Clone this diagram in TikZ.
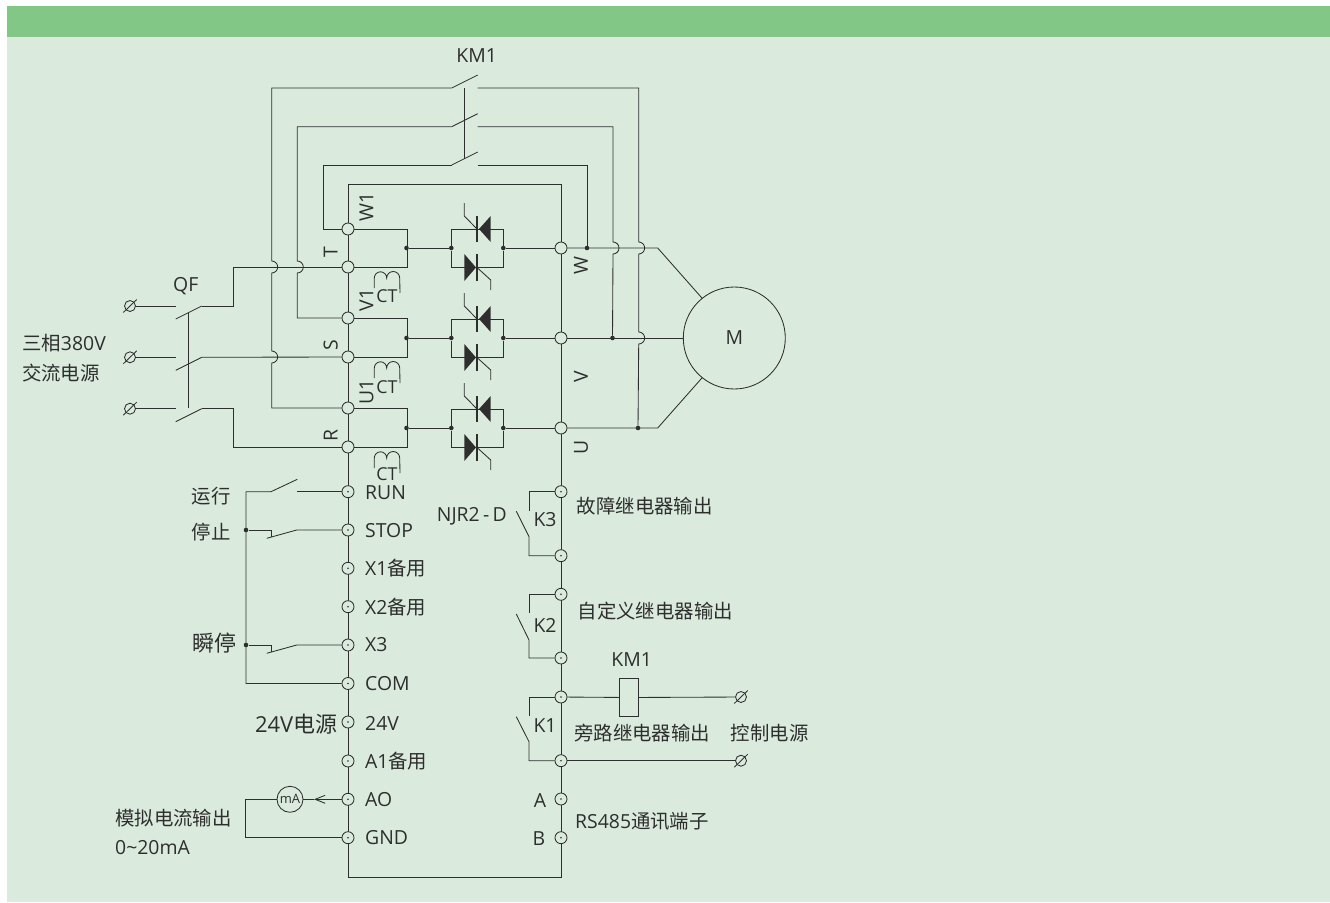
\documentclass[tikz,border=0pt]{standalone}
\usepackage{fontspec}
\setmainfont{Open Sans}
\newfontfamily\cjk{Noto Sans CJK SC}
\usetikzlibrary{arrows.meta}
\definecolor{panelgreen}{HTML}{DAEBDD}
\definecolor{bandgreen}{HTML}{82C785}
\definecolor{wirecolor}{HTML}{2E2E2E}
\tikzset{
	wire/.style={draw=wirecolor, line width=0.85pt},
	lbl/.style={inner sep=0pt, text=wirecolor, font=\fontsize{19.4}{22}\selectfont},
	biglbl/.style={inner sep=0pt, text=wirecolor, font=\fontsize{22}{24}\selectfont},
	bigterm/.style={circle, wire, fill=panelgreen, minimum size=12pt, inner sep=0pt},
	smallterm/.style={circle, wire, fill=panelgreen, minimum size=12pt, inner sep=0pt,
		path picture={\fill[wirecolor] (path picture bounding box.center) circle (0.9pt);}},
	supply/.style={circle, wire, minimum size=11pt, inner sep=0pt},
	junction/.style={circle, fill=wirecolor, minimum size=4.6pt, inner sep=0pt},
	coil/.style={wire, fill=panelgreen, minimum width=19pt, minimum height=38pt, inner sep=0pt}
}
% one anti-parallel thyristor pair, #1 is the centre line of the pair
\newcommand{\thyristors}[1]{
	\fill[wirecolor] (490.7, #1+32) -- (479, #1+19) -- (490.7, #1+6) -- cycle;
	\draw[wire, line width=1.9pt] (477, #1+32) -- (477, #1+6);
	\draw[wire] (477, #1+19) -- (464.3, #1+32) -- (464.3, #1+45);
	\fill[wirecolor] (464.3, #1-6) -- (476, #1-19.5) -- (464.3, #1-33) -- cycle;
	\draw[wire, line width=1.9pt] (477, #1-6) -- (477, #1-33);
	\draw[wire] (477, #1-19.5) -- (490.7, #1-32) -- (490.7, #1-42);
}
% current transformer, #1 is the height of the bumps, #2 the height of its text
\newcommand{\ctcoil}[2]{
	\draw[wire] (374.3, #1-10) -- (374.3, #1) arc[start angle=180, end angle=0, radius=6.2pt]
		arc[start angle=180, end angle=0, radius=6.5pt] -- (400, #1-15);
	\node[lbl, font=\fontsize{17.8}{20}\selectfont] at (387, #2) {CT};
}
\begin{document}
\begin{tikzpicture}[x=1pt, y=1pt]
	\useasboundingbox (0, 0) rectangle (1330, -902);
	\fill[panelgreen] (7, -6) rectangle (1330, -902);
	\fill[bandgreen] (7, -6) rectangle (1330, -37);

	% frame of the starter
	\draw[wire] (348, -184) -- (561, -184) -- (561, -877) -- (348, -877) -- cycle;

	% left power terminals
	\node[bigterm] (W1) at (348, -229) {};
	\node[bigterm] (T) at (348, -267) {};
	\node[bigterm] (V1) at (348, -318) {};
	\node[bigterm] (S) at (348, -357) {};
	\node[bigterm] (U1) at (348, -408) {};
	\node[bigterm] (R) at (348, -447) {};
	\node[lbl, rotate=90] at (366.5, -207) {W1};
	\node[lbl, rotate=90] at (330.7, -252) {T};
	\node[lbl, rotate=90] at (366.5, -300) {V1};
	\node[lbl, rotate=90] at (330.7, -345) {S};
	\node[lbl, rotate=90] at (366.5, -392) {U1};
	\node[lbl, rotate=90] at (330.7, -435) {R};
	\ctcoil{-278}{-296.5}
	\ctcoil{-368}{-387}
	\ctcoil{-458}{-474.5}

	% right power terminals
	\node[bigterm] (W) at (561, -248) {};
	\node[bigterm] (V) at (561, -338) {};
	\node[bigterm] (U) at (561, -428) {};
	\node[lbl, rotate=90] at (581, -265.5) {W};
	\node[lbl, rotate=90] at (581, -376.5) {V};
	\node[lbl, rotate=90] at (581, -447.5) {U};

	% thyristor modules
	\thyristors{-248}
	\thyristors{-338}
	\thyristors{-428}
	\node[junction] (dW1) at (406.5, -248) {};
	\node[junction] (dV1) at (406.5, -338) {};
	\node[junction] (dU1) at (406.5, -428) {};
	\node[junction] (aW) at (451.3, -248) {};
	\node[junction] (aV) at (451.3, -338) {};
	\node[junction] (aU) at (451.3, -428) {};
	\node[junction] (bW) at (503.3, -248) {};
	\node[junction] (bV) at (503.3, -338) {};
	\node[junction] (bU) at (503.3, -428) {};
	\draw[wire] (W1) -- (407, -229) -- (407, -267) -- (T);
	\draw[wire] (V1) -- (407, -318) -- (407, -357) -- (S);
	\draw[wire] (U1) -- (407, -408) -- (407, -447) -- (R);
	\draw[wire] (dW1) -- (aW);
	\draw[wire] (dV1) -- (aV);
	\draw[wire] (dU1) -- (aU);
	\draw[wire] (aW) -- (451.3, -229) -- (503.3, -229) -- (bW) -- (503.3, -267) -- (451.3, -267) -- (aW);
	\draw[wire] (aV) -- (451.3, -319) -- (503.3, -319) -- (bV) -- (503.3, -357) -- (451.3, -357) -- (aV);
	\draw[wire] (aU) -- (451.3, -409) -- (503.3, -409) -- (bU) -- (503.3, -447) -- (451.3, -447) -- (aU);
	\draw[wire] (bW) -- (W);
	\draw[wire] (bV) -- (V);
	\draw[wire] (bU) -- (U);

	% KM1 bypass contacts
	\node[lbl] (km1top) at (476.7, -56) {KM1};
	\coordinate (kmA) at (451.7, -88);
	\coordinate (kmB) at (451.7, -126.7);
	\coordinate (kmC) at (451.7, -165);
	\coordinate (kmAr) at (477.7, -88);
	\coordinate (kmBr) at (477.7, -126.7);
	\coordinate (kmCr) at (477.7, -165);
	\draw[wire] (kmA) -- ++(26, 13);
	\draw[wire] (kmB) -- ++(26, 13);
	\draw[wire] (kmC) -- ++(26, 13);
	\draw[wire] (464.7, -88) -- (464.7, -158.5);
	\node[junction] (jW) at (587, -248) {};
	\node[junction] (jV) at (612.5, -338) {};
	\node[junction] (jU) at (638, -428) {};
	\draw[wire] (kmCr) -- (587, -165) -- (jW);
	\draw[wire] (kmBr) -- (613, -126.7) -- (613, -242) arc[start angle=90, end angle=-90, radius=6pt] -- (jV);
	\draw[wire] (kmAr) -- (638.7, -88) -- (638.7, -242) arc[start angle=90, end angle=-90, radius=6pt]
		-- (638.7, -332) arc[start angle=90, end angle=-90, radius=6pt] -- (jU);
	\draw[wire] (S.west) -- (201.7, -357.3);
	\draw[wire] (T.west) -- (233, -267) -- (233, -306) -- (201.7, -306);
	\draw[wire] (R.west) -- (233, -447) -- (233, -408.7) -- (201.7, -408.7);
	\draw[wire] (kmA) -- (271.7, -88) -- (271.7, -261) arc[start angle=90, end angle=-90, radius=6pt]
		-- (271.7, -351) arc[start angle=90, end angle=-90, radius=6pt] -- (271.7, -408) -- (U1.west);
	\draw[wire] (kmB) -- (297.3, -126.7) -- (297.3, -261) arc[start angle=90, end angle=-90, radius=6pt]
		-- (297.3, -318) -- (V1.west);
	\draw[wire] (kmC) -- (323.3, -165) -- (323.3, -229) -- (W1.west);

	% motor
	\node[circle, wire, minimum size=102pt, inner sep=0pt] (M) at (734.3, -338) {};
	\node[lbl] at (M.center) {M};
	\draw[wire] (W.east) -- (657.7, -248) -- (M.129);
	\draw[wire] (V.east) -- (M.west);
	\draw[wire] (U.east) -- (657.7, -428) -- (M.231);

	% QF and mains supply
	\node[lbl] at (185.7, -285.7) {QF};
	\node[lbl, anchor=west] at (22, -343) {{\cjk 三相}380V};
	\node[lbl, anchor=west] at (22, -373) {\cjk 交流电源};
	\node[supply] (L1) at (130, -306) {};
	\node[supply] (L2) at (130, -357.3) {};
	\node[supply] (L3) at (130, -408.7) {};
	\foreach \n/\yy in {L1/-306, L2/-357.3, L3/-408.7}{
		\draw[wire] (123.3, \yy-6.5) -- (136.7, \yy+6.5);
		\draw[wire] (\n) -- (175.7, \yy);
		\draw[wire] (201.7, \yy) -- (175.7, \yy-13);
	}
	\draw[wire] (188.3, -312.5) -- (188.3, -408.3);

	% control terminals on the left
	\node[smallterm] (RUN) at (348, -491.7) {};
	\node[smallterm] (STOP) at (348, -530) {};
	\node[smallterm] (Xa) at (348, -568.3) {};
	\node[smallterm] (Xb) at (348, -606.7) {};
	\node[smallterm] (Xc) at (348, -645) {};
	\node[smallterm] (COM) at (348, -683.5) {};
	\node[smallterm] (Vs) at (348, -722) {};
	\node[smallterm] (Aa) at (348, -761) {};
	\node[smallterm] (AO) at (348, -799.3) {};
	\node[smallterm] (GND) at (348, -837.7) {};
	\node[lbl, anchor=west] at (365, -492.7) {RUN};
	\node[lbl, anchor=west] at (365, -530.3) {STOP};
	\node[lbl, anchor=west] at (365, -568.3) {X1{\cjk 备用}};
	\node[lbl, anchor=west] at (365, -607) {X2{\cjk 备用}};
	\node[lbl, anchor=west] at (365, -645) {X3};
	\node[lbl, anchor=west] at (365, -683.5) {COM};
	\node[lbl, anchor=west] at (365, -723) {24V};
	\node[lbl, anchor=west] at (365, -761) {A1{\cjk 备用}};
	\node[lbl, anchor=west] at (365, -799.5) {AO};
	\node[lbl, anchor=west] at (365, -838) {GND};
	\node[lbl] at (211, -495.7) {\cjk 运行};
	\node[lbl] at (211, -532.3) {\cjk 停止};
	\node[biglbl] at (214, -642.7) {\cjk 瞬停};
	\node[biglbl, anchor=east] at (337.5, -724) {24V{\cjk 电源}};

	% run and stop contacts
	\node[junction] (jSTOP) at (246, -530) {};
	\node[junction] (jX) at (246, -645) {};
	\draw[wire] (COM) -- (246, -683.5) -- (246, -491.7) -- (271, -491.7) -- ++(26.3, 12.4);
	\draw[wire] (RUN) -- (297.3, -491.7);
	\draw[wire] (jSTOP) -- (271.7, -530) -- (271.7, -537);
	\draw[wire] (STOP) -- (296.7, -530) -- (266.7, -538.3);
	\draw[wire] (jX) -- (271.7, -645) -- (271.7, -652);
	\draw[wire] (Xc) -- (296.7, -645) -- (266.7, -653.3);

	% current output
	\node[circle, wire, minimum size=26pt, inner sep=0pt] (mA) at (290, -799.3) {};
	\node[lbl, font=\fontsize{13}{15}\selectfont] at (mA.center) {mA};
	\coordinate (AOtip) at (314, -799.3);
	\draw[wire, -{Straight Barb[length=10pt, width=8pt]}] (AO.west) -- (AOtip);
	\draw[wire] (AOtip) -- (mA.east);
	\draw[wire] (GND.west) -- (245.7, -837.7) -- (245.7, -799.3) -- (mA.west);
	\node[lbl, anchor=west] at (115, -818) {\cjk 模拟电流输出};
	\node[lbl, anchor=west] at (115, -847.7) {0\textasciitilde20mA};

	% relay outputs on the right
	\node[smallterm] (Ka) at (561, -491.7) {};
	\node[smallterm] (Kb) at (561, -555.7) {};
	\node[smallterm] (Kc) at (561, -594.3) {};
	\node[smallterm] (Kd) at (561, -658) {};
	\node[smallterm] (Ke) at (561, -697) {};
	\node[smallterm] (Kf) at (561, -760.7) {};
	\node[smallterm] (TA) at (561, -799) {};
	\node[smallterm] (TB) at (561, -837.7) {};
	\draw[wire] (Ka) -- (529, -491.7) -- (529, -510.7);
	\draw[wire] (Kb) -- (529, -555.7) -- (529, -536.7) -- (516.3, -511.3);
	\draw[wire] (Kc) -- (529, -594.3) -- (529, -613.3);
	\draw[wire] (Kd) -- (529, -658) -- (529, -640) -- (516.3, -614);
	\draw[wire] (Ke) -- (529, -697) -- (529, -716);
	\draw[wire] (Kf) -- (529, -760.7) -- (529, -741.7) -- (516.3, -716.7);
	\node[lbl] at (545, -520) {K3};
	\node[lbl] at (545, -625) {K2};
	\node[lbl] at (545, -726) {K1};
	\node[lbl, anchor=west] at (436.7, -516) {NJR2\,-\,D};
	\node[lbl, anchor=west] at (576.7, -506) {\cjk 故障继电器输出};
	\node[lbl, anchor=west] at (577.5, -610.7) {\cjk 自定义继电器输出};

	% KM1 coil and control supply
	\node[coil] (coilK) at (629, -697.5) {};
	\node[lbl] at (631.7, -660) {KM1};
	\node[supply] (Ca) at (741, -697) {};
	\node[supply] (Cb) at (741, -760.7) {};
	\draw[wire] (734.3, -703.5) -- (747.7, -690.5);
	\draw[wire] (734.3, -767.2) -- (747.7, -754.2);
	\draw[wire] (Ke) -- (coilK);
	\draw[wire] (coilK) -- (Ca);
	\draw[wire] (Kf) -- (Cb);
	\node[lbl, anchor=west] at (574, -732.7) {\cjk 旁路继电器输出};
	\node[lbl, anchor=west] at (730.7, -732.7) {\cjk 控制电源};
	\node[lbl] at (540, -801) {A};
	\node[lbl] at (539, -838.7) {B};
	\node[lbl, anchor=west] at (575, -821.7) {RS485{\cjk 通讯端子}};
\end{tikzpicture}
\end{document}
